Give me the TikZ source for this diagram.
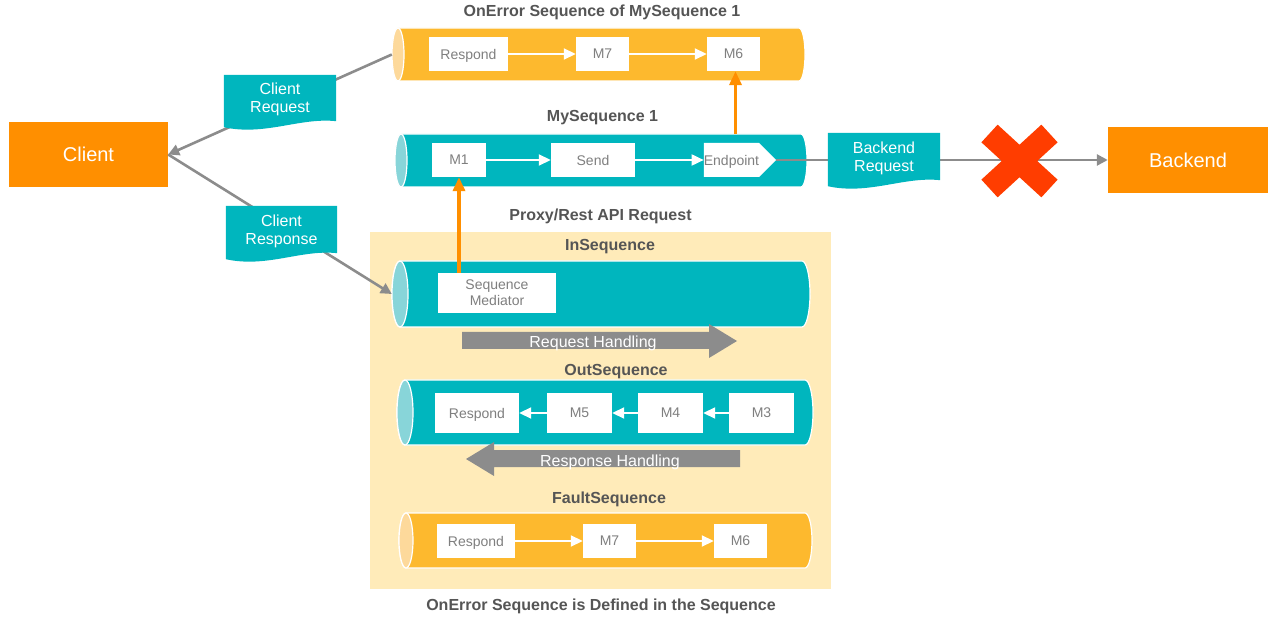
\documentclass[tikz,border=0pt]{standalone}
\usepackage{fontspec}
\setmainfont{Liberation Sans}
\usetikzlibrary{arrows.meta,fit,calc,shapes.symbols}
\definecolor{teal1}{HTML}{00B6BE}
\definecolor{tealend}{HTML}{88D5D9}
\definecolor{amber}{HTML}{FDB92E}
\definecolor{amberend}{HTML}{FDD99B}
\definecolor{orng}{HTML}{FF8F00}
\definecolor{panel}{HTML}{FFEBB9}
\definecolor{gline}{HTML}{8C8C8C}
\definecolor{titlegray}{HTML}{555555}
\definecolor{boxtext}{HTML}{7F7F7F}
\definecolor{xred}{HTML}{FF3D00}
\pgfdeclarelayer{back}
\pgfdeclarelayer{docbg}
\pgfdeclarelayer{doctop}
\pgfsetlayers{back,main,docbg,doctop}
\tikzset{
  title/.style={font=\bfseries\fontsize{16}{19}\selectfont, text=titlegray, inner sep=0pt},
  medbox/.style={fill=white, text=boxtext, font=\fontsize{14}{16}\selectfont, inner sep=0pt, align=center, text depth=0pt},
  cylbody/.style={draw=white, line width=1.2pt},
  docnode/.style={inner sep=0pt, text=white, font=\fontsize{16}{18}\selectfont, align=center, text depth=0pt},
  bigbox/.style={fill=orng, text=white, font=\fontsize{20}{24}\selectfont, inner sep=0pt, text depth=0pt},
  gconn/.style={draw=gline, line width=2.6pt, -{Triangle[length=11pt,width=11pt]}},
  oconn/.style={draw=orng, line width=3.5pt, -{Triangle[length=14pt,width=12pt]}},
  wconn/.style={draw=white, line width=1.8pt, -{Triangle[length=12pt,width=11pt]}},
  blockarrow/.style={fill=gline},
  arrowtext/.style={text=white, font=\fontsize{16}{18}\selectfont, inner sep=0pt, text depth=0pt},
  failframe/.style={inner sep=0pt, outer sep=0pt},
  failx/.style={draw=xred, line width=24pt, line cap=butt},
}
% cylinder: name, x1, y1, x2, y2, rx, body colour, end colour
\newcommand\seqcyl[8]{%
  \node[fit={(#2,#3)(#4,#5)}, inner sep=0pt] (#1) {};
  \pgfmathsetmacro\cylry{(#5-#3)/2}
  \filldraw[cylbody, fill=#7] (#2+#6,#3) -- (#4-#6,#3)
    arc[start angle=90, end angle=-90, x radius=#6pt, y radius=\cylry pt]
    -- (#2+#6,#5)
    arc[start angle=-90, end angle=-270, x radius=#6pt, y radius=\cylry pt] -- cycle;
  \filldraw[cylbody, fill=#8] (#2+#6,{(#3+#5)/2}) ellipse[x radius=#6pt, y radius=\cylry pt];
}
% document shape with wavy bottom behind a node
\newcommand\docfill[1]{%
  \fill[teal1] (#1.north west) -- (#1.north east) -- (#1.south east)
    .. controls ([shift={(-36,-4)}]#1.south east) and ([shift={(41,15)}]#1.south west)
    .. ([shift={(0,6)}]#1.south west) -- cycle;
}
\begin{document}
\begin{tikzpicture}[x=1pt,y=-1pt]
\useasboundingbox (0,0) rectangle (1278,628);
\begin{pgfonlayer}{back}
  \fill[panel] (370,232) rectangle (831,589);
\end{pgfonlayer}

% titles
\node[title] (t-onerr) at (602,12) {OnError Sequence of MySequence 1};
\node[title] (t-myseq) at (602.5,118) {MySequence 1};
\node[title] (t-proxy) at (600.5,216) {Proxy/Rest API Request};
\node[title] (t-in) at (610,247) {InSequence};
\node[title] (t-out) at (616,372) {OutSequence};
\node[title] (t-fault) at (609,499) {FaultSequence};
\node[title] (t-cap) at (601,606) {OnError Sequence is Defined in the Sequence};

% cylinders
\seqcyl{oncyl}{392}{28}{805}{81}{6}{amber}{amberend}
\seqcyl{myseq}{395}{134}{807}{187}{6}{teal1}{tealend}
\seqcyl{insq}{392}{261}{810}{327}{8}{teal1}{tealend}
\seqcyl{outsq}{397}{380}{813}{445}{8}{teal1}{tealend}
\seqcyl{fsq}{399}{513}{812}{568}{7}{amber}{amberend}

% block arrows
\fill[blockarrow] (462,332) -- (709,332) -- (709,324) -- (737,341) -- (709,358) -- (709,349) -- (462,349) -- cycle;
\node[arrowtext] (reqh) at (593,342) {Request Handling};
\fill[blockarrow] (740,450) -- (494,450) -- (494,442) -- (466,459) -- (494,476) -- (494,467) -- (740,467) -- cycle;
\node[arrowtext] (resh) at (610,461) {Response Handling};

% mediator boxes
\node[medbox, minimum width=79pt, minimum height=34pt] (o-resp) at (468.5,54) {Respond};
\node[medbox, minimum width=53pt, minimum height=34pt] (o-m7) at (602.5,54) {M7};
\node[medbox, minimum width=53pt, minimum height=34pt] (o-m6) at (733.5,54) {M6};
\node[medbox, minimum width=54pt, minimum height=34pt] (m1) at (459,160) {M1};
\node[medbox, minimum width=84pt, minimum height=34pt] (send) at (593,160) {Send};
\node[medbox, signal, signal to=east, minimum width=69pt, minimum height=34pt] (ep) at (731.5,160) {Endpoint};
\node[medbox, minimum width=118pt, minimum height=40pt] (med) at (497,293) {Sequence\\Mediator};
\node[medbox, minimum width=84pt, minimum height=40pt] (out-resp) at (477,413) {Respond};
\node[medbox, minimum width=65pt, minimum height=40pt] (m5) at (579.5,413) {M5};
\node[medbox, minimum width=65pt, minimum height=40pt] (m4) at (670.5,413) {M4};
\node[medbox, minimum width=65pt, minimum height=40pt] (m3) at (761.5,413) {M3};
\node[medbox, minimum width=78pt, minimum height=34pt] (f-resp) at (476,541) {Respond};
\node[medbox, minimum width=53pt, minimum height=34pt] (f-m7) at (609.5,541) {M7};
\node[medbox, minimum width=53pt, minimum height=34pt] (f-m6) at (740.5,541) {M6};

% white arrows inside sequences
\draw[wconn] (o-resp.east) -- (o-m7.west);
\draw[wconn] (o-m7.east) -- (o-m6.west);
\draw[wconn] (m1.east) -- (send.west);
\draw[wconn] (send.east) -- (ep.west);
\draw[wconn] (m3.west) -- (m4.east);
\draw[wconn] (m4.west) -- (m5.east);
\draw[wconn] (m5.west) -- (out-resp.east);
\draw[wconn] (f-resp.east) -- (f-m7.west);
\draw[wconn] (f-m7.east) -- (f-m6.west);

% orange arrows
\draw[oconn] ([xshift=2pt]o-m6.south |- myseq.north) -- ([xshift=2pt]o-m6.south);
\draw[oconn] (m1.south |- med.north) -- (m1.south);

% client and backend
\node[bigbox, minimum width=159pt, minimum height=65pt] (client) at (88.5,154.5) {Client};
\node[bigbox, minimum width=160pt, minimum height=66pt] (backend) at (1188,160) {Backend};

% grey connectors
\draw[gconn] (oncyl.west) -- (client.east);
\draw[gconn] (client.east) -- (insq.west);
\draw[gconn] (ep.east) -- (backend.west);

% failure cross
\node[failframe, minimum width=60pt, minimum height=55pt] (fail) at (1019.5,161) {};
\draw[failx] (fail.north west) -- (fail.south east);
\draw[failx] (fail.north east) -- (fail.south west);

% message labels
\begin{pgfonlayer}{doctop}
  \node[docnode, minimum width=112pt, minimum height=46pt] (creq) at (280,98) {Client\\Request};
  \node[docnode, minimum width=111pt, minimum height=47pt] (cresp) at (281.5,229.5) {Client\\Response};
  \node[docnode, minimum width=112pt, minimum height=47pt] (breq) at (884,156.5) {Backend\\Request};
\end{pgfonlayer}
\begin{pgfonlayer}{docbg}
  \docfill{creq}
  \docfill{cresp}
  \docfill{breq}
\end{pgfonlayer}
\end{tikzpicture}
\end{document}
